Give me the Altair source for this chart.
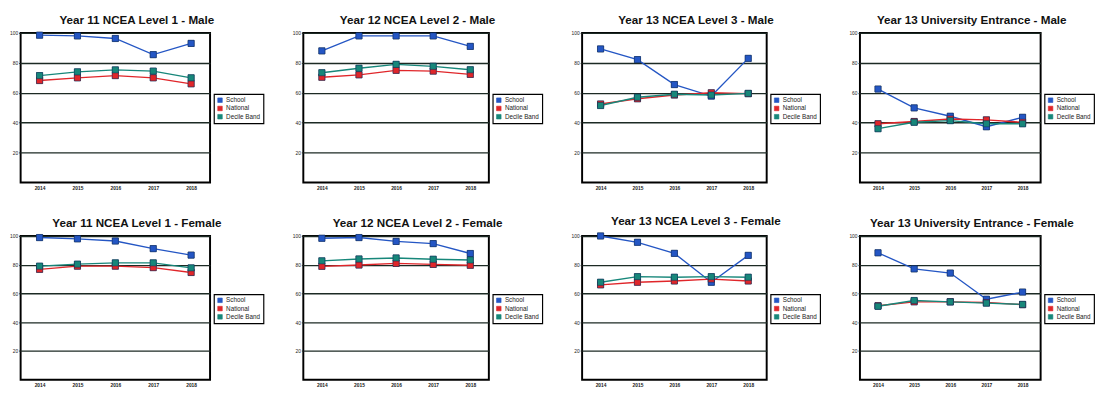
import altair as alt
import pandas as pd

years = ["2014", "2015", "2016", "2017", "2018"]
series = ["School", "National", "Decile Band"]
colors = ["#2456c4", "#e0262a", "#17877a"]

titles = [
    "Year 11 NCEA Level 1 - Male",
    "Year 12 NCEA Level 2 - Male",
    "Year 13 NCEA Level 3 - Male",
    "Year 13 University Entrance - Male",
    "Year 11 NCEA Level 1 - Female",
    "Year 12 NCEA Level 2 - Female",
    "Year 13 NCEA Level 3 - Female",
    "Year 13 University Entrance - Female",
]

# Male
school_l1_m = [98.5, 98, 96.3, 85.5, 93]
national_l1_m = [68.2, 70, 71.5, 70, 66]
decile_l1_m = [71.5, 74, 75.3, 74.5, 70]

school_l2_m = [88, 98, 98, 98, 91]
national_l2_m = [70.4, 72, 75, 74.5, 72.3]
decile_l2_m = [73.4, 76.4, 79, 77.7, 75.4]

school_l3_m = [89.3, 82.2, 65.5, 57.8, 83]
national_l3_m = [52.5, 56, 58.5, 60, 59.4]
decile_l3_m = [51.5, 57, 59, 58.5, 59.6]

school_ue_m = [62.5, 49.9, 44.3, 37.3, 43.6]
national_ue_m = [39.3, 40.8, 42.5, 41.9, 40.3]
decile_ue_m = [36, 40.3, 41.4, 39.3, 39.3]

# Female
school_l1_f = [98.9, 98, 96.5, 91.2, 86.7]
national_l1_f = [76.8, 79, 79, 78, 74.6]
decile_l1_f = [79, 80.4, 81.3, 81.3, 77.8]

school_l2_f = [98.4, 98.9, 96.2, 94.7, 87.8]
national_l2_f = [78.9, 79.8, 80.9, 80.2, 79.6]
decile_l2_f = [82.7, 84, 84.7, 83.8, 83.3]

school_l3_f = [100, 95.6, 87.9, 67.8, 86.5]
national_l3_f = [66, 67.8, 68.7, 70, 68.7]
decile_l3_f = [67.8, 71.7, 71.3, 71.7, 71.3]

school_ue_f = [88.3, 77.1, 74.2, 56, 61]
national_ue_f = [51.5, 54.2, 54.2, 53.7, 52.2]
decile_ue_f = [51.1, 55.1, 54.2, 53.3, 52.4]

panel_data = [
    (school_l1_m, national_l1_m, decile_l1_m),
    (school_l2_m, national_l2_m, decile_l2_m),
    (school_l3_m, national_l3_m, decile_l3_m),
    (school_ue_m, national_ue_m, decile_ue_m),
    (school_l1_f, national_l1_f, decile_l1_f),
    (school_l2_f, national_l2_f, decile_l2_f),
    (school_l3_f, national_l3_f, decile_l3_f),
    (school_ue_f, national_ue_f, decile_ue_f),
]

col_widths = [195, 191, 190, 186]
row_heights = [154, 148]


def panel(title, vals, w, h):
    rows = []
    for name, v in zip(series, vals):
        for yr, val in zip(years, v):
            rows.append({"year": yr, "series": name, "value": val})
    df = pd.DataFrame(rows)
    color = alt.Color(
        "series:N",
        scale=alt.Scale(domain=series, range=colors),
        sort=series,
        legend=alt.Legend(
            title=None,
            orient="none",
            legendX=w + 4,
            legendY=h / 2 - 14,
            symbolType="square",
            symbolSize=22,
            symbolStrokeWidth=0.6,
            labelFontSize=6.5,
            labelFont="Liberation Sans",
            labelColor="#222",
            labelOffset=3,
            rowPadding=0.5,
            padding=3,
            strokeColor="#000",
            labelLimit=60,
        ),
    )
    x = alt.X(
        "year:O",
        scale=alt.Scale(type="point", padding=0.5),
        axis=alt.Axis(title=None, labelAngle=0, ticks=False, domain=False,
                      labelFontSize=5, labelPadding=3, labelColor="#222",
                      labelFontWeight="bold"),
    )
    y = alt.Y(
        "value:Q",
        scale=alt.Scale(domain=[0, 100], nice=False),
        axis=alt.Axis(title=None, values=[20, 40, 60, 80, 100], grid=True,
                      gridColor="#1c2a24", gridWidth=1.4, domain=False,
                      tickSize=2, tickColor="#222", labelFontSize=5,
                      labelPadding=1, labelColor="#222"),
    )
    base = alt.Chart(df).encode(x=x, y=y, color=color)
    pts = base.mark_point(shape="square", filled=True, size=40, opacity=1,
                          stroke="#0d2a55", strokeWidth=0.5)
    lines = base.mark_line(strokeWidth=1.4)
    return alt.layer(pts, lines, pts).properties(
        width=w,
        height=h,
        title=alt.TitleParams(title, fontSize=12, fontWeight="bold",
                              font="Liberation Sans", anchor="middle",
                              frame="bounds", offset=4, color="#111"),
    )


rows = []
for r in range(2):
    panels = []
    for c in range(4):
        i = r * 4 + c
        panels.append(panel(titles[i], panel_data[i], col_widths[c], row_heights[r]))
    rows.append(
        alt.hconcat(*panels, spacing=26)
        .resolve_scale(color="independent")
        .resolve_legend(color="independent")
    )

chart = (
    alt.vconcat(*rows, spacing=23)
    .resolve_scale(color="independent")
    .resolve_legend(color="independent")
    .properties(padding={"left": 0, "top": 0, "right": 0, "bottom": 0}, background="white")
    .configure_view(stroke="#000", strokeWidth=2)
    .configure_legend(strokeWidth=1.2)
)

chart.save("out.html", embed_options={"renderer": "svg", "actions": False})
